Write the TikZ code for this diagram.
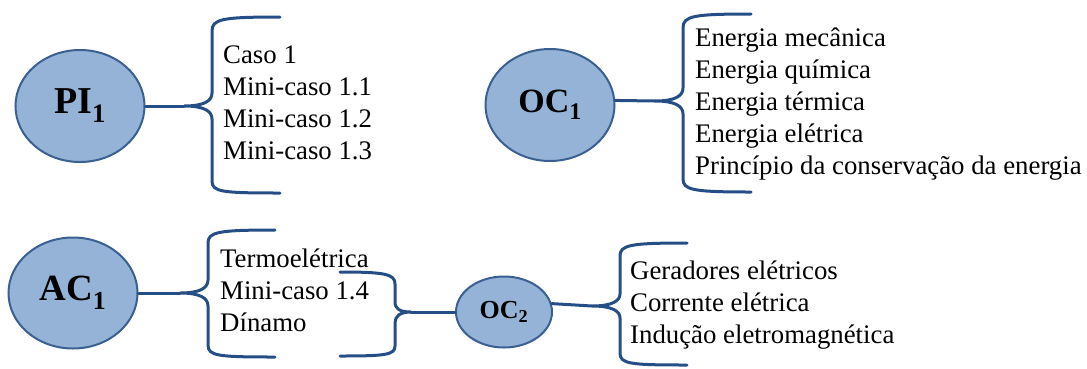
\documentclass[tikz,border=0pt]{standalone}
\usepackage{fontspec}
\setmainfont{Liberation Serif}
\usepackage{tikz}
\usetikzlibrary{shapes.geometric}

\definecolor{fillblue}{RGB}{149,179,215}
\definecolor{edgeblue}{RGB}{58,95,145}
\definecolor{brcblue}{RGB}{38,78,134}

\tikzset{
  topic/.style={ellipse, draw=edgeblue, line width=2pt, fill=fillblue, inner sep=0pt},
  brc/.style={draw=brcblue, line width=3pt, line cap=round},
  items/.style={anchor=west, align=left, inner sep=0pt, font=\fontsize{26.8}{32}\selectfont}
}

\begin{document}
\begin{tikzpicture}[x=1pt,y=-1pt]
  \useasboundingbox (0,0) rectangle (1087,368);

  % ellipses
  \node[topic, minimum width=129, minimum height=112, font=\fontsize{38}{38}\selectfont\bfseries] (pi) at (80,106) {PI$_{\mathbf{1}}$};
  \node[topic, minimum width=129, minimum height=112, font=\fontsize{34}{34}\selectfont\bfseries] (oca) at (550,105) {OC$_{\mathbf{1}}$};
  \node[topic, minimum width=129, minimum height=111, font=\fontsize{37}{37}\selectfont\bfseries] (ac) at (73,293) {AC$_{\mathbf{1}}$};
  \node[topic, minimum width=96, minimum height=71, font=\fontsize{26}{26}\selectfont\bfseries] (ocb) at (504,312) {OC$_{\mathbf{2}}$};

  % texts
  \node[items] (pitxt) at (223,103) {Caso 1\\Mini-caso 1.1\\Mini-caso 1.2\\Mini-caso 1.3};
  \node[items] (ocatxt) at (695,104) {Energia mecânica\\Energia química\\Energia térmica\\Energia elétrica\\Princípio da conservação da energia};
  \node[items] (actxt) at (220,290) {Termoelétrica\\Mini-caso 1.4\\Dínamo};
  \node[items] (ocbtxt) at (630,305) {Geradores elétricos\\Corrente elétrica\\Indução eletromagnética};

  % tips of the braces
  \coordinate (pitip) at (184,106);
  \coordinate (ocatip) at (655,101);
  \coordinate (actip) at (180,293);
  \coordinate (midtip) at (411,312);
  \coordinate (ocbtip) at (592,306);

  % connectors
  \draw[brc] (pi.east) -- (pitip);
  \draw[brc] (oca.4) -- (ocatip);
  \draw[brc] (ac.east) -- (actip);
  \draw[brc] (midtip) -- (ocb.west);
  \draw[brc] (ocb.10) -- (ocbtip);

  % braces
  \draw[brc] (280,17) .. controls (222,17) and (212,19) .. (212,31) -- (212,93)
    .. controls (212,101) and (204,106) .. (pitip)
    .. controls (204,106) and (212,111) .. (212,119) -- (212,181)
    .. controls (212,192) and (222,193) .. (280,193);
  \draw[brc] (751,14) .. controls (693,14) and (683,16) .. (683,28) -- (683,88)
    .. controls (683,96) and (675,101) .. (ocatip)
    .. controls (675,101) and (683,106) .. (683,114) -- (683,179)
    .. controls (683,190) and (693,192) .. (751,192);
  \draw[brc] (275,230) .. controls (218,230) and (208,232) .. (208,243) -- (208,280)
    .. controls (208,288) and (200,293) .. (actip)
    .. controls (200,293) and (208,298) .. (208,306) -- (208,345)
    .. controls (208,356) and (218,357) .. (275,357);
  \draw[brc] (340,272) .. controls (385,272) and (395,274) .. (395,284) -- (395,302)
    .. controls (395,309) and (400,312) .. (midtip)
    .. controls (400,312) and (395,316) .. (395,323) -- (395,346)
    .. controls (395,355) and (385,356) .. (340,356);
  \draw[brc] (687,243) .. controls (630,243) and (620,245) .. (620,256) -- (620,294)
    .. controls (620,301) and (612,306) .. (ocbtip)
    .. controls (612,306) and (620,311) .. (620,318) -- (620,353)
    .. controls (620,364) and (630,365) .. (687,365);
\end{tikzpicture}
\end{document}
